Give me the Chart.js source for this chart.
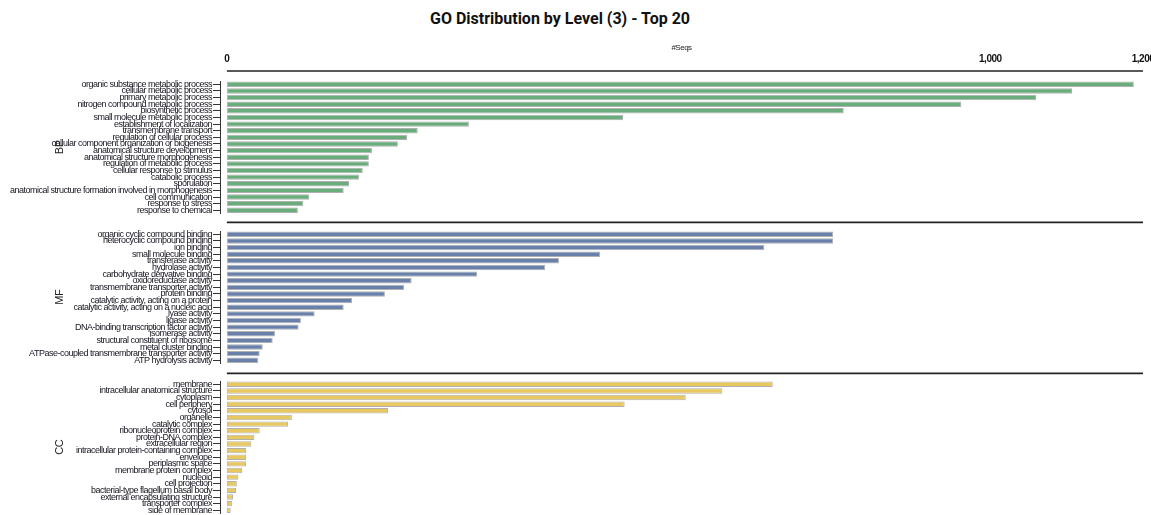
<!DOCTYPE html>
<html>
<head>
<meta charset="utf-8">
<title>GO Distribution by Level (3) - Top 20</title>
<script src="https://cdn.jsdelivr.net/npm/chart.js@4.4.1/dist/chart.umd.min.js"></script>
<style>
  body { margin: 0; background: #fff; overflow: hidden; width: 1151px; height: 515px; position: relative; }
  #title { position: absolute; left: 0; top: 9px; width: 1120px; text-align: center; font: bold 16px Roboto, sans-serif; color: #111; }
  canvas { position: absolute; left: 0; }
  #bp { top: 0; }
  #mf { top: 220px; }
  #cc { top: 370px; }
</style>
</head>
<body>
<div id="title">GO Distribution by Level (3) - Top 20</div>
<canvas id="bp" width="1160" height="220"></canvas>
<canvas id="mf" width="1160" height="150"></canvas>
<canvas id="cc" width="1160" height="150"></canvas>
<script>
'use strict';

// top 20 terms per ontology, #Seqs each
let bpLabels = [
  'organic substance metabolic process',
  'cellular metabolic process',
  'primary metabolic process',
  'nitrogen compound metabolic process',
  'biosynthetic process',
  'small molecule metabolic process',
  'establishment of localization',
  'transmembrane transport',
  'regulation of cellular process',
  'cellular component organization or biogenesis',
  'anatomical structure development',
  'anatomical structure morphogenesis',
  'regulation of metabolic process',
  'cellular response to stimulus',
  'catabolic process',
  'sporulation',
  'anatomical structure formation involved in morphogenesis',
  'cell communication',
  'response to stress',
  'response to chemical'
];
let bpSeqs = [1188, 1107, 1060, 962, 808, 519, 317, 250, 236, 224, 190, 186, 186, 178, 173, 160, 153, 108, 100, 93];

let mfLabels = [
  'organic cyclic compound binding',
  'heterocyclic compound binding',
  'ion binding',
  'small molecule binding',
  'transferase activity',
  'hydrolase activity',
  'carbohydrate derivative binding',
  'oxidoreductase activity',
  'transmembrane transporter activity',
  'protein binding',
  'catalytic activity, acting on a protein',
  'catalytic activity, acting on a nucleic acid',
  'lyase activity',
  'ligase activity',
  'DNA-binding transcription factor activity',
  'isomerase activity',
  'structural constituent of ribosome',
  'metal cluster binding',
  'ATPase-coupled transmembrane transporter activity',
  'ATP hydrolysis activity'
];
let mfSeqs = [794, 794, 704, 489, 435, 417, 328, 242, 232, 207, 164, 153, 115, 97, 94, 63, 60, 47, 43, 41];

let ccLabels = [
  'membrane',
  'intracellular anatomical structure',
  'cytoplasm',
  'cell periphery',
  'cytosol',
  'organelle',
  'catalytic complex',
  'ribonucleoprotein complex',
  'protein-DNA complex',
  'extracellular region',
  'intracellular protein-containing complex',
  'envelope',
  'periplasmic space',
  'membrane protein complex',
  'nucleoid',
  'cell projection',
  'bacterial-type flagellum basal body',
  'external encapsulating structure',
  'transporter complex',
  'side of membrane'
];
let ccSeqs = [715, 649, 601, 521, 211, 85, 80, 43, 36, 32, 25, 25, 25, 20, 15, 13, 12, 8, 7, 5];

let seqTicks = [0, 1000, 1200];

const fontFamily = '"Liberation Sans", Arial, sans-serif';

// tighter letters so the long term names fit left of the axis
const tightText = {
  id: 'tightText',
  beforeDraw(chart) {
    chart.ctx.letterSpacing = '-0.5px';
  }
};

// horizontal rule above each block, from 0 to the right edge
const panelRule = {
  id: 'panelRule',
  afterDraw(chart, args, opts) {
    const ctx = chart.ctx;
    const y = chart.chartArea.top - opts.gap;
    ctx.save();
    ctx.strokeStyle = '#222';
    ctx.lineWidth = 1.6;
    ctx.beginPath();
    ctx.moveTo(chart.scales.x.getPixelForValue(0), y);
    ctx.lineTo(chart.chartArea.right, y);
    ctx.stroke();
    ctx.restore();
  }
};

function makePanel(id, name, labels, values, color, padTop, gap, showAxis) {
  let ctx = document.getElementById(id).getContext('2d');
  return new Chart(ctx, {
    type: 'bar',
    data: {
      labels: labels,
      datasets: [{
        label: name,
        data: values,
        backgroundColor: color,
        borderColor: 'rgba(150, 150, 150, 0.75)',
        borderWidth: 1,
        borderSkipped: false,
        barPercentage: 0.82,
        categoryPercentage: 1
      }]
    },
    options: {
      indexAxis: 'y',
      responsive: false,
      animation: false,
      layout: { padding: { top: padTop, bottom: 4, left: 0, right: 17 } },
      plugins: {
        legend: { display: false },
        tooltip: { enabled: false },
        panelRule: { gap: gap }
      },
      scales: {
        x: {
          position: 'top',
          display: showAxis,
          min: -9,
          max: 1200,
          afterBuildTicks: s => { s.ticks = seqTicks.map(v => ({ value: v })); },
          afterFit: s => {
            if (showAxis) s.height = 81;
            s.paddingLeft = 0;
            s.paddingRight = 0;
          },
          grid: { display: false, drawTicks: true, tickLength: 15 },
          border: { display: false },
          ticks: {
            padding: 1,
            color: '#111',
            font: { family: fontFamily, size: 10, weight: 'bold' },
            maxRotation: 0,
            callback: v => v.toLocaleString('en-US')
          },
          title: {
            display: true,
            text: '#Seqs',
            color: '#222',
            font: { family: fontFamily, size: 8 },
            padding: { top: 43, bottom: 0 }
          }
        },
        y: {
          afterFit: s => { s.width = 220; },
          grid: { offset: false, drawOnChartArea: false, drawTicks: true, tickLength: 7, color: '#333' },
          border: { display: true, color: '#333', width: 1 },
          ticks: { autoSkip: false, padding: 1, color: '#15151f', font: { family: fontFamily, size: 9 } },
          title: {
            display: true,
            text: name,
            color: '#222',
            font: { family: fontFamily, size: 11 },
            padding: { top: 53, bottom: 0 }
          }
        }
      }
    },
    plugins: [tightText, panelRule]
  });
}

makePanel('bp', 'BP', bpLabels, bpSeqs, '#68ad7b', 0, 10, true);
makePanel('mf', 'MF', mfLabels, mfSeqs, '#6880aa', 11, 8.6, false);
makePanel('cc', 'CC', ccLabels, ccSeqs, '#e8c861', 11, 7.6, false);
</script>
</body>
</html>
